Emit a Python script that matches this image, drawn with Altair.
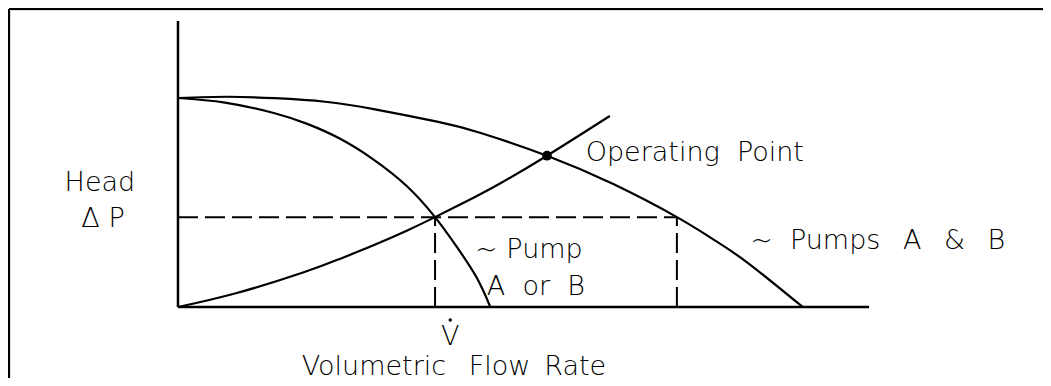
import altair as alt
import pandas as pd

# ---- data (flow Q, head H in relative units) ----
single_q = [0, 6.8, 14.0, 18.8, 23.4, 28.2, 33.1, 37.2, 40.3, 43.2, 45.2]
single_h = [100, 97.8, 92.7, 87.5, 80.6, 70.8, 57.9, 43.0, 29.0, 14.2, 0]

parallel_q = [0, 7.2, 14.0, 21.3, 28.5, 37.5, 43.7, 53.4, 63.0, 72.2, 77.4, 82.3, 90.4]
parallel_h = [100, 100.6, 99.9, 98.2, 94.6, 88.7, 83.4, 72.4, 58.8, 43.0, 32.5, 21.5, 0]

system_q = [0, 8.5, 18.1, 23.4, 28.2, 33.1, 37.2, 42.7, 46.6, 53.4, 62.5]
system_h = [0, 6.7, 16.5, 23.0, 29.4, 36.5, 43.0, 52.2, 59.1, 72.4, 91.4]

op_q, op_h = 53.4, 72.4          # operating point
single_op_q, single_op_h = 37.2, 43.0
parallel_op_q = 72.2
axis_x_max, axis_y_max = 100, 136.8

SP2 = "\u00a0 "
SP3 = "\u00a0\u2009 "
labels_left = ["Operating" + SP2 + "Point", "~ Pump", "A" + SP2 + "or" + SP2 + "B",
               "~" + SP2 + "Pumps" + SP3 + "A" + SP3 + "&" + SP3 + "B",
               "Volumetric" + SP3 + "Flow\u2009 Rate"]
labels_left_q = [59.0, 43.0, 44.7, 82.8, 17.9]
labels_left_h = [69.9, 23.4, 5.7, 27.8, -32.6]

labels_center = ["Head", "\u0394 P", "V"]
labels_center_q = [-11.3, -10.85, 39.4]
labels_center_h = [55.6, 38.4, -18.2]

vdot_q, vdot_h = 39.4, -6.2      # dot over V (flow-rate symbol)

W, H = 1033, 368
xs = alt.Scale(domain=[-24.31, 125.18], nice=False, zero=False)
ys = alt.Scale(domain=[-33.97, 142.11], nice=False, zero=False)

def X(f="q"):
    return alt.X(f"{f}:Q", scale=xs, axis=None)

def Y(f="h"):
    return alt.Y(f"{f}:Q", scale=ys, axis=None)

curves = pd.concat([
    pd.DataFrame({"q": single_q, "h": single_h, "c": "single"}),
    pd.DataFrame({"q": parallel_q, "h": parallel_h, "c": "parallel"}),
    pd.DataFrame({"q": system_q, "h": system_h, "c": "system"}),
])

curve_layer = alt.Chart(curves).mark_line(
    color="black", strokeWidth=2.2, interpolate="natural"
).encode(x=X(), y=Y(), detail="c:N", order="q:Q")

axes_df = pd.DataFrame({"q": [0, 0], "q2": [0, axis_x_max], "h": [0, 0], "h2": [axis_y_max, 0]})
axes_layer = alt.Chart(axes_df).mark_rule(color="black", strokeWidth=2.5).encode(
    x=X(), x2="q2:Q", y=Y(), y2="h2:Q")

dash_df = pd.DataFrame({
    "q": [0, single_op_q, parallel_op_q],
    "q2": [parallel_op_q, single_op_q, parallel_op_q],
    "h": [single_op_h, 0, 0],
    "h2": [single_op_h, single_op_h, single_op_h],
})
dash_layer = alt.Chart(dash_df).mark_rule(
    color="black", strokeWidth=2, strokeDash=[20, 7]
).encode(x=X(), x2="q2:Q", y=Y(), y2="h2:Q")

op_layer = alt.Chart(pd.DataFrame({"q": [op_q], "h": [op_h]})).mark_circle(
    color="black", size=95, opacity=1
).encode(x=X(), y=Y())

vdot_layer = alt.Chart(pd.DataFrame({"q": [vdot_q], "h": [vdot_h]})).mark_circle(
    color="black", size=12, opacity=1
).encode(x=X(), y=Y())

txt_style = dict(font="DejaVu Sans", fontSize=27, fontWeight=200, color="black",
                 baseline="alphabetic")
text_left = alt.Chart(pd.DataFrame({"q": labels_left_q, "h": labels_left_h, "t": labels_left})
                      ).mark_text(align="left", **txt_style).encode(x=X(), y=Y(), text="t:N")
text_center = alt.Chart(pd.DataFrame({"q": labels_center_q, "h": labels_center_h, "t": labels_center})
                        ).mark_text(align="center", **txt_style).encode(x=X(), y=Y(), text="t:N")

dummy = pd.DataFrame({"a": [0]})
frame_top = alt.Chart(dummy).mark_rule(color="black", strokeWidth=2).encode(
    x=alt.value(-1), x2=alt.value(W + 20), y=alt.value(-1))
frame_left = alt.Chart(dummy).mark_rule(color="black", strokeWidth=2).encode(
    x=alt.value(-1), y=alt.value(-1), y2=alt.value(H + 20))

chart = alt.layer(
    frame_top, frame_left, axes_layer, dash_layer, curve_layer, op_layer, vdot_layer,
    text_left, text_center
).properties(
    width=W, height=H,
    autosize=alt.AutoSizeParams(type="none"),
    padding={"left": 2, "top": 2, "right": 0, "bottom": 0},
).configure_view(strokeWidth=0).configure(background="white")

chart.save("out.html", embed_options={"renderer": "svg", "actions": False})
